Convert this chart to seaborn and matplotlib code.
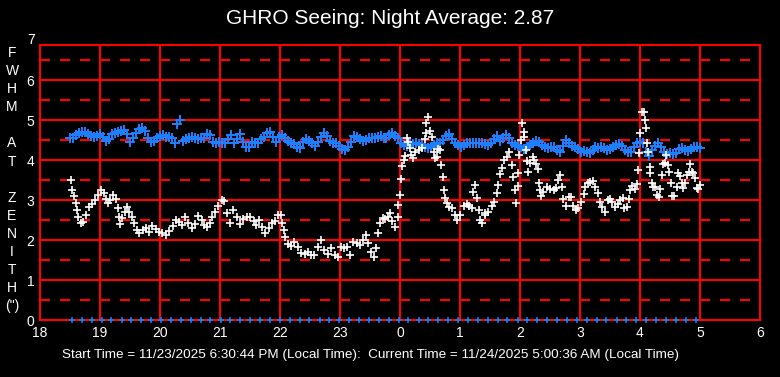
import matplotlib
matplotlib.use("Agg")
import matplotlib.pyplot as plt
import matplotlib.transforms as mtransforms
import numpy as np
import pandas as pd
import seaborn as sns

title_text = "GHRO Seeing: Night Average: 2.87"
footer_text = ("Start Time = 11/23/2025 6:30:44 PM (Local Time):  "
               "Current Time = 11/24/2025 5:00:36 AM (Local Time)")
ylabel_rows = ["F", "W", "H", "M", "", "A", "T", "", "Z", "E", "N", "I", "T", "H", '(")']

hour_ticks = list(range(18, 31))
hour_labels = ["18", "19", "20", "21", "22", "23", "0", "1", "2", "3", "4", "5", "6"]
fwhm_ticks = [0, 1, 2, 3, 4, 5, 6]

# blue series: one reading every ~3 minutes, 18:30 -> 05:00
blue_start, blue_end = 18.5, 29.0
blue_fwhm = [
    4.54, 4.56, 4.62, 4.67, 4.71, 4.70, 4.65, 4.60, 4.58, 4.60, 4.64, 4.58, 4.48, 4.52, 4.64, 4.68,
    4.70, 4.72, 4.74, 4.66, 4.45, 4.55, 4.68, 4.77, 4.80, 4.72, 4.55, 4.45, 4.48, 4.55, 4.60, 4.63,
    4.58, 4.57, 4.55, 4.42, 4.90, 5.00, 4.48, 4.52, 4.55, 4.58, 4.55, 4.53, 4.56, 4.56,
    4.64, 4.62, 4.46, 4.43, 4.46, 4.43, 4.42, 4.52, 4.62, 4.43, 4.52, 4.64, 4.46, 4.33, 4.33, 4.46,
    4.43, 4.43, 4.52, 4.58, 4.67, 4.71, 4.57, 4.46, 4.58, 4.62, 4.56, 4.48, 4.43, 4.40, 4.33, 4.29,
    4.46, 4.52, 4.48, 4.42, 4.35, 4.46, 4.58, 4.68, 4.60, 4.48, 4.43, 4.42, 4.35, 4.27,
    4.25, 4.33, 4.46, 4.60, 4.57, 4.52, 4.48, 4.50, 4.54, 4.56, 4.54, 4.58, 4.60, 4.54, 4.54, 4.62,
    4.67, 4.60, 4.54, 4.43, 4.38, 4.35, 4.40, 4.40, 4.42, 4.40, 4.38, 4.33, 4.29, 4.33, 4.38, 4.42,
    4.43, 4.50, 4.60, 4.65, 4.52, 4.42, 4.38, 4.33, 4.38, 4.43, 4.42, 4.42, 4.43, 4.42, 4.42,
    4.40, 4.38, 4.42, 4.52, 4.60, 4.48, 4.54, 4.62, 4.54, 4.42, 4.38, 4.35, 4.32, 4.27, 4.33, 4.38,
    4.43, 4.48, 4.46, 4.38, 4.32, 4.29, 4.32, 4.33, 4.25, 4.21, 4.35, 4.50, 4.43, 4.35, 4.33, 4.27,
    4.21, 4.23, 4.21, 4.18, 4.25, 4.33, 4.29, 4.33, 4.29, 4.25, 4.27, 4.33, 4.38, 4.40, 4.35,
    4.25, 4.21, 4.21, 4.33, 4.43, 4.46, 4.42, 4.21, 4.10, 4.25, 4.35, 4.42, 4.33, 4.21, 4.15, 4.18,
    4.15, 4.17, 4.27, 4.29, 4.25, 4.23, 4.27, 4.32, 4.33, 4.29,
]

# white series (seeing FWHM)
white_hours = [
    18.52, 18.54, 18.57, 18.60, 18.62, 18.64, 18.68, 18.72, 18.76, 18.81,
    18.86, 18.92, 18.96, 19.02, 19.06, 19.10, 19.13, 19.17, 19.22, 19.26,
    19.30, 19.31, 19.33, 19.36, 19.41, 19.45, 19.48, 19.53, 19.57, 19.61,
    19.65, 19.71, 19.76, 19.82, 19.87, 19.93, 19.98, 20.04, 20.10, 20.15,
    20.21, 20.26, 20.32, 20.37, 20.42, 20.47, 20.53, 20.58, 20.64, 20.70,
    20.74, 20.78, 20.83, 20.87, 20.92, 20.97, 21.03, 21.07, 21.11, 21.17,
    21.22, 21.28, 21.33, 21.39, 21.45, 21.50, 21.56, 21.60, 21.65, 21.70,
    21.75, 21.81, 21.86, 21.92, 21.97, 22.02, 22.04, 22.06, 22.08, 22.13,
    22.18, 22.24, 22.30, 22.35, 22.41, 22.46, 22.52, 22.57, 22.63, 22.68,
    22.74, 22.80, 22.85, 22.91, 22.96, 23.02, 23.07, 23.11, 23.17, 23.22,
    23.28, 23.33, 23.39, 23.43, 23.47, 23.52, 23.56, 23.60, 23.63, 23.67,
    23.71, 23.75, 23.80, 23.83, 23.87, 23.92, 23.96, 23.97, 24.00, 24.02,
    24.04, 24.06, 24.08, 24.11, 24.14, 24.17, 24.19, 24.22, 24.25, 24.31,
    24.36, 24.41, 24.43, 24.44, 24.46, 24.50, 24.53, 24.56, 24.58, 24.61,
    24.64, 24.67, 24.69, 24.72, 24.74, 24.75, 24.78, 24.82, 24.86, 24.91,
    24.95, 25.00, 25.06, 25.11, 25.15, 25.20, 25.22, 25.25, 25.28, 25.31,
    25.33, 25.37, 25.41, 25.42, 25.47, 25.53, 25.57, 25.61, 25.64, 25.67,
    25.70, 25.74, 25.78, 25.82, 25.86, 25.89, 25.92, 25.93, 25.96, 25.97,
    25.99, 26.01, 26.03, 26.06, 26.07, 26.10, 26.11, 26.13, 26.17, 26.21,
    26.24, 26.26, 26.30, 26.32, 26.33, 26.35, 26.39, 26.45, 26.50, 26.56,
    26.60, 26.63, 26.67, 26.70, 26.72, 26.76, 26.81, 26.85, 26.89, 26.93,
    26.97, 27.02, 27.06, 27.08, 27.13, 27.17, 27.21, 27.25, 27.30, 27.33,
    27.37, 27.42, 27.46, 27.50, 27.54, 27.58, 27.63, 27.67, 27.71, 27.74,
    27.78, 27.81, 27.83, 27.86, 27.91, 27.95, 27.97, 27.98, 28.00, 28.03,
    28.06, 28.08, 28.10, 28.12, 28.14, 28.16, 28.17, 28.20, 28.22, 28.25,
    28.28, 28.31, 28.34, 28.36, 28.39, 28.42, 28.44, 28.47, 28.49, 28.51,
    28.54, 28.57, 28.61, 28.64, 28.67, 28.70, 28.72, 28.75, 28.78, 28.81,
    28.83, 28.86, 28.89, 28.92, 28.95, 28.97, 29.00,
]
white_fwhm = [
    3.50, 3.25, 3.10, 2.92, 2.75, 2.57, 2.42, 2.46, 2.62, 2.83,
    2.90, 3.00, 3.12, 3.25, 3.17, 3.02, 2.92, 3.00, 3.12, 3.02,
    2.79, 2.58, 2.40, 2.54, 2.71, 2.82, 2.71, 2.58, 2.42, 2.25,
    2.17, 2.25, 2.29, 2.21, 2.35, 2.27, 2.21, 2.17, 2.12, 2.23,
    2.35, 2.50, 2.46, 2.38, 2.58, 2.43, 2.29, 2.40, 2.60, 2.50,
    2.38, 2.33, 2.42, 2.58, 2.71, 2.85, 3.00, 2.98, 2.68, 2.43,
    2.75, 2.58, 2.40, 2.52, 2.57, 2.58, 2.48, 2.38, 2.50, 2.33,
    2.18, 2.29, 2.42, 2.48, 2.62, 2.62, 2.42, 2.25, 2.08, 1.90,
    1.85, 1.96, 1.83, 1.68, 1.65, 1.71, 1.62, 1.62, 1.83, 2.00,
    1.75, 1.65, 1.79, 1.62, 1.58, 1.83, 1.79, 1.83, 1.62, 1.96,
    1.92, 1.88, 2.00, 2.12, 1.92, 1.71, 1.58, 1.79, 2.17, 2.42,
    2.54, 2.52, 2.58, 2.67, 2.48, 2.33, 2.58, 2.87, 3.12, 3.52,
    3.85, 4.00, 4.10, 4.54, 4.46, 4.29, 4.12, 4.04, 4.21, 4.25,
    4.29, 4.52, 4.68, 4.92, 5.08, 4.73, 4.57, 4.21, 4.04, 4.08,
    4.27, 4.25, 3.87, 3.57, 3.25, 3.04, 2.92, 2.83, 2.79, 2.62,
    2.50, 2.62, 2.85, 2.90, 2.85, 2.79, 3.21, 3.37, 3.04, 2.75,
    2.50, 2.42, 2.62, 2.67, 2.71, 2.85, 2.96, 3.17, 3.37, 3.65,
    3.79, 4.00, 4.08, 4.21, 3.87, 3.57, 3.25, 2.92, 3.35, 3.67,
    4.12, 4.50, 4.93, 4.71, 4.57, 4.25, 3.98, 3.71, 3.93, 4.07,
    4.00, 3.90, 3.77, 3.43, 3.25, 3.10, 3.21, 3.32, 3.27, 3.25,
    3.29, 3.50, 3.62, 3.32, 3.02, 2.85, 3.07, 3.07, 2.85, 2.75,
    2.79, 2.96, 3.15, 3.32, 3.42, 3.46, 3.48, 3.32, 3.17, 2.96,
    2.83, 2.71, 3.00, 3.02, 2.96, 2.83, 2.90, 3.00, 3.04, 2.79,
    2.83, 3.02, 3.25, 3.35, 3.27, 3.40, 3.75, 4.17, 4.68, 5.21,
    5.21, 5.00, 4.79, 4.43, 4.21, 3.83, 3.67, 3.42, 3.33, 3.32,
    3.12, 3.08, 3.27, 3.62, 3.90, 3.93, 4.12, 3.87, 3.71, 3.42,
    3.10, 3.10, 3.32, 3.68, 3.60, 3.42, 3.29, 3.43, 3.62, 3.71,
    3.90, 3.71, 3.68, 3.54, 3.29, 3.27, 3.37,
]

# blue markers sitting on the zero line (every ~10 min)
zero_hours = [
    18.53, 18.70, 18.86, 19.03, 19.19, 19.36, 19.52, 19.69, 19.85, 20.02,
    20.18, 20.35, 20.51, 20.68, 20.84, 21.01, 21.17, 21.34, 21.50, 21.67,
    21.83, 22.00, 22.16, 22.33, 22.49, 22.66, 22.82, 22.99, 23.15, 23.32,
    23.48, 23.65, 23.81, 23.98, 24.14, 24.31, 24.47, 24.64, 24.80, 24.97,
    25.13, 25.30, 25.46, 25.63, 25.79, 25.96, 26.12, 26.29, 26.45, 26.62,
    26.78, 26.95, 27.11, 27.28, 27.44, 27.61, 27.77, 27.94, 28.10, 28.27,
    28.43, 28.60, 28.76, 28.93,
]

sns.set_theme(style="dark")
plt.rcParams["font.family"] = ["Liberation Sans", "DejaVu Sans"]
plt.rcParams["lines.scale_dashes"] = False

red = "#ff0000"
blue = "#1e80ff"

blue_df = pd.DataFrame({"hour": np.linspace(blue_start, blue_end, len(blue_fwhm)), "fwhm": blue_fwhm})
white_df = pd.DataFrame({"hour": white_hours, "fwhm": white_fwhm})
zero_df = pd.DataFrame({"hour": zero_hours, "fwhm": np.zeros(len(zero_hours))})

fig = plt.figure(figsize=(7.8, 3.77), dpi=100, facecolor="black")
ax = fig.add_axes([40 / 780, 57 / 377, 720 / 780, 275 / 377])
ax.set_facecolor("black")

# grid: solid on whole units, dashed on the halves
for v in fwhm_ticks[1:]:
    ax.axhline(v, color=red, lw=1.5, zorder=1)
for v in np.arange(0.5, 7, 1.0):
    ax.axhline(v, color=red, lw=1.5, dashes=(7.2, 7.2), zorder=1)
for h in hour_ticks[1:-1]:
    ax.axvline(h, color=red, lw=1.5, zorder=1)

sns.scatterplot(data=blue_df, x="hour", y="fwhm", marker="+", s=42, color=blue,
                linewidth=1.4, ax=ax, zorder=3, legend=False)
sns.scatterplot(data=zero_df, x="hour", y="fwhm", marker="+", s=22, color=blue,
                linewidth=1.1, ax=ax, zorder=3, legend=False, clip_on=False)
sns.scatterplot(data=white_df, x="hour", y="fwhm", marker="+", s=32, color="white",
                linewidth=1.2, ax=ax, zorder=4, legend=False)

ax.set_xlim(18, 30)
ax.set_ylim(0, 6.875)
ax.set_xticks(hour_ticks)
ax.set_xticklabels(hour_labels)
ax.set_yticks(fwhm_ticks)
ax.set_yticklabels([str(v) for v in fwhm_ticks])
ax.tick_params(colors="white", labelsize=10, length=0, pad=4)
ax.set_xlabel("")
ax.set_ylabel("")
for sp in ax.spines.values():
    sp.set_visible(True)
    sp.set_color(red)
    sp.set_linewidth(1.5)

# the "7" label sits above the frame
trans = mtransforms.blended_transform_factory(ax.transAxes, ax.transData)
ax.text(-0.0069, 7, "7", transform=trans, ha="right", va="center",
        color="white", fontsize=10, clip_on=False)

fig.text(0.5, 1 - 18 / 377, title_text, ha="center", va="center", color="white", fontsize=15)
fig.text(62 / 780, 1 - 355 / 377, footer_text, ha="left", va="center", color="white", fontsize=9.7)
for i, letter in enumerate(ylabel_rows):
    if letter:
        fig.text(12 / 780, 1 - (53 + 18.1 * i) / 377, letter, ha="center", va="center",
                 color="white", fontsize=10)

fig.savefig("out.png", dpi=100, facecolor="black")
